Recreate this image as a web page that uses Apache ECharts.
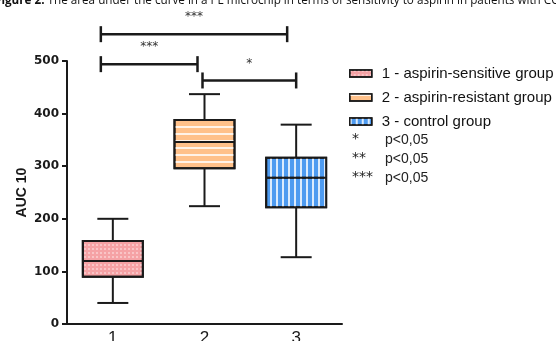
<!DOCTYPE html>
<html><head><meta charset="utf-8">
<script src="https://cdn.jsdelivr.net/npm/echarts@6/dist/echarts.min.js"></script>
<style>html,body{margin:0;padding:0;background:#fff;overflow:hidden}#c{width:556px;height:341px}</style>
</head><body><div id="c"></div>
<script>
const titleBold = 'Figure 2.';
const titleRest = ' The area under the curve in a PL microchip in terms of sensitivity to aspirin in patients with CCS';
const categories = ['1', '2', '3'];
const groupNames = ['1 - aspirin-sensitive group', '2 - aspirin-resistant group', '3 - control group'];
// [min, Q1, median, Q3, max]
const group1 = [40, 90, 120, 158, 200];
const group2 = [224, 296, 346, 388, 437];
const group3 = [127, 222, 278, 316, 379];
const yTicks = [0, 100, 200, 300, 400, 500];
const yName = 'AUC 10';
const comparisons = [[0, 1], [1, 2], [0, 2]];
const comparisonLevels = [494, 463, 551];
const comparisonLabels = ['***', '*', '***'];
const sigKeys = ['*', '**', '***'];
const sigTexts = ['p<0,05', 'p<0,05', 'p<0,05'];

const groups = [group1, group2, group3];
const fills = ['#F5A2A5', '#FFC18A', '#4E9BF0'];
const decals = [
  {symbol: 'circle', symbolSize: 0.9, dashArrayX: [1.6, 1.7], dashArrayY: [1.6, 1.7], color: 'rgba(255,255,255,0.55)'},
  {symbol: 'rect', symbolSize: 1, dashArrayX: [1, 0], dashArrayY: [1.5, 4.3], color: 'rgba(255,255,255,0.8)'},
  {symbol: 'rect', symbolSize: 1, dashArrayX: [1.4, 3.4], dashArrayY: [1, 0], color: 'rgba(255,255,255,0.8)'}
];
const INK = '#1a1a1a';
// bracket end insets in px (style only)
const bracketInset = [[-12, -7], [-2, 0], [-12, -9]];

const chart = echarts.init(document.getElementById('c'), null, {renderer: 'canvas'});

const boxSeries = groups.map((g, i) => ({
  type: 'boxplot',
  name: groupNames[i],
  xAxisIndex: i,
  yAxisIndex: 0,
  boxWidth: [60, 60],
  encode: {x: 0, y: [1, 2, 3, 4, 5]},
  data: [[i, g[1], g[1], g[2], g[3], g[3]]],
  itemStyle: {color: fills[i], borderColor: INK, borderWidth: 2, decal: decals[i]},
  emphasis: {disabled: true},
  z: 3
}));

const whiskerSeries = {
  type: 'custom',
  xAxisIndex: 0, yAxisIndex: 0,
  encode: {x: 0, y: [1, 2, 3, 4]},
  data: groups.map((g, i) => [i, g[0], g[1], g[3], g[4]]),
  z: 2,
  renderItem(params, api) {
    const x = api.value(0);
    const pMin = api.coord([x, api.value(1)]);
    const pQ1 = api.coord([x, api.value(2)]);
    const pQ3 = api.coord([x, api.value(3)]);
    const pMax = api.coord([x, api.value(4)]);
    const hw = 15.5;
    const st = {stroke: INK, lineWidth: 2};
    return {type: 'group', children: [
      {type: 'line', shape: {x1: pMin[0], y1: pMin[1], x2: pQ1[0], y2: pQ1[1]}, style: st},
      {type: 'line', shape: {x1: pQ3[0], y1: pQ3[1], x2: pMax[0], y2: pMax[1]}, style: st},
      {type: 'line', shape: {x1: pMin[0] - hw, y1: pMin[1], x2: pMin[0] + hw, y2: pMin[1]}, style: st},
      {type: 'line', shape: {x1: pMax[0] - hw, y1: pMax[1], x2: pMax[0] + hw, y2: pMax[1]}, style: st}
    ]};
  }
};

const bracketSeries = {
  type: 'custom',
  xAxisIndex: 0, yAxisIndex: 0,
  clip: false,
  encode: {x: [0, 1], y: 2},
  data: comparisons.map((c, i) => [c[0], c[1], comparisonLevels[i]]),
  z: 4,
  renderItem(params, api) {
    const i = params.dataIndex;
    const a = api.coord([api.value(0), api.value(2)]);
    const b = api.coord([api.value(1), api.value(2)]);
    const x1 = a[0] + bracketInset[i][0];
    const x2 = b[0] + bracketInset[i][1];
    const y = a[1];
    const st = {stroke: INK, lineWidth: 2.5};
    return {type: 'group', children: [
      {type: 'line', shape: {x1: x1, y1: y, x2: x2, y2: y}, style: st},
      {type: 'line', shape: {x1: x1, y1: y - 8, x2: x1, y2: y + 8}, style: st},
      {type: 'line', shape: {x1: x2, y1: y - 8, x2: x2, y2: y + 8}, style: st},
      {type: 'text', x: (x1 + x2) / 2, y: y - 11, style: {text: comparisonLabels[i], fill: '#333', font: '12px "DejaVu Sans"', align: 'center', verticalAlign: 'bottom'}}
    ]};
  }
};

const xAxisBase = {
  type: 'category', data: categories, gridIndex: 0,
  axisLine: {show: true, lineStyle: {color: INK, width: 2}},
  axisTick: {show: false},
  axisLabel: {show: true, color: INK, fontSize: 17, fontFamily: 'Liberation Sans', margin: 6},
  splitLine: {show: false}
};

const keyGraphics = [];
sigKeys.forEach((k, i) => {
  const yy = 141 + i * 19;
  keyGraphics.push({type: 'text', left: 352, top: yy - 9, style: {text: k, font: '14px "DejaVu Sans"', fill: '#222'}});
  keyGraphics.push({type: 'text', left: 385, top: yy - 8, style: {text: sigTexts[i], font: '14px "Liberation Sans"', fill: '#222'}});
});

chart.setOption({
  animation: false,
  backgroundColor: '#fff',
  grid: {left: 67, right: 214, top: 61, bottom: 17, outerBoundsMode: 'none', containLabel: false},
  xAxis: [
    xAxisBase,
    Object.assign({}, xAxisBase, {show: false}),
    Object.assign({}, xAxisBase, {show: false})
  ],
  yAxis: {
    type: 'value',
    min: yTicks[0], max: yTicks[yTicks.length - 1], interval: yTicks[1] - yTicks[0],
    name: yName, nameLocation: 'middle', nameGap: 38,
    nameTextStyle: {fontFamily: 'Liberation Sans', fontWeight: 'bold', fontSize: 14, color: INK},
    axisLine: {show: true, lineStyle: {color: INK, width: 2}},
    axisTick: {show: true, length: 5, lineStyle: {color: INK, width: 2}},
    axisLabel: {color: INK, fontFamily: 'DejaVu Sans', fontWeight: 'bold', fontSize: 12, margin: 8},
    splitLine: {show: false}
  },
  legend: {
    data: groupNames.map((n, i) => ({name: n, itemStyle: {color: fills[i], borderColor: INK, borderWidth: 1.5, decal: decals[i]}})),
    orient: 'vertical', left: 349, top: 66, padding: 0,
    icon: 'rect', itemWidth: 22, itemHeight: 7, itemGap: 9,
    textStyle: {fontFamily: 'Liberation Sans', fontSize: 15, color: '#111', padding: [0, 0, 0, 5]},
    selectedMode: false
  },
  graphic: [
    {type: 'text', left: -5, top: -5, style: {
      text: '{b|' + titleBold + '}{r|' + titleRest + '}',
      rich: {b: {font: 'bold 11.7px "Open Sans"', fill: '#111'}, r: {font: '11.7px "Open Sans"', fill: '#111'}}
    }}
  ].concat(keyGraphics),
  series: boxSeries.concat([whiskerSeries, bracketSeries])
});
</script>
</body></html>
